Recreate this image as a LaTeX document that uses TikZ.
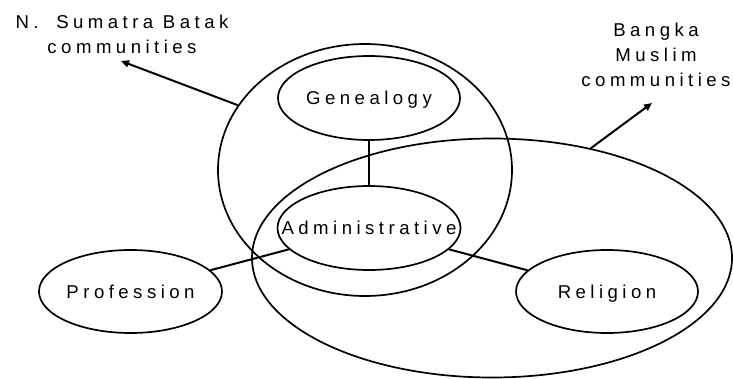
\documentclass[tikz,border=0pt]{standalone}
\usepackage{fontspec}
\setmainfont{Liberation Sans}[LetterSpace=24]
\usetikzlibrary{shapes.geometric,arrows.meta}
\begin{document}
\begin{tikzpicture}[x=1pt,y=-1pt,
  lbl/.style={font=\fontsize{18.6}{25}\selectfont,align=center,anchor=north,inner sep=0pt},
  oval/.style={ellipse,draw,line width=1.7pt,inner sep=0pt,text height=13.3pt,text depth=0pt,font=\fontsize{18.6}{25}\selectfont},
  region/.style={ellipse,draw,line width=1.7pt,inner sep=0pt},
  link/.style={line width=2pt},
  pointer/.style={line width=2pt,-{Triangle[length=8pt,width=7pt]}},
]
\useasboundingbox (0,0) rectangle (733,379);
\node[region,minimum width=294pt,minimum height=252pt] (batak) at (365,170) {};
\node[region,minimum width=480pt,minimum height=239pt] (bangka) at (492,258) {};
\node[oval,minimum width=182pt,minimum height=84pt] (gen) at (369,98) {\makebox[0pt]{Genealogy}};
\node[oval,minimum width=183pt,minimum height=84pt] (admin) at (369,228) {\makebox[0pt]{Administrative}};
\node[oval,minimum width=183pt,minimum height=83pt] (prof) at (130.5,291.5) {\makebox[0pt]{Profession}};
\node[oval,minimum width=182pt,minimum height=83pt] (rel) at (607,291.5) {\makebox[0pt]{Religion}};
\draw[link] (gen) -- (admin);
\draw[link] (prof) -- (admin);
\draw[link] (admin) -- (rel);
\coordinate (batakTip) at (121,61);
\coordinate (bangkaTip) at (652,103);
\draw[pointer] (batak.153.3) -- (batakTip);
\draw[pointer] (bangka.48.6) -- (bangkaTip);
\node[lbl] (batakLabel) at (122,14.7) {N.\hspace{8pt} Sumatra Batak\\communities};
\node[lbl] (bangkaLabel) at (656,22.7) {Bangka\\Muslim\\communities};
\end{tikzpicture}
\end{document}
